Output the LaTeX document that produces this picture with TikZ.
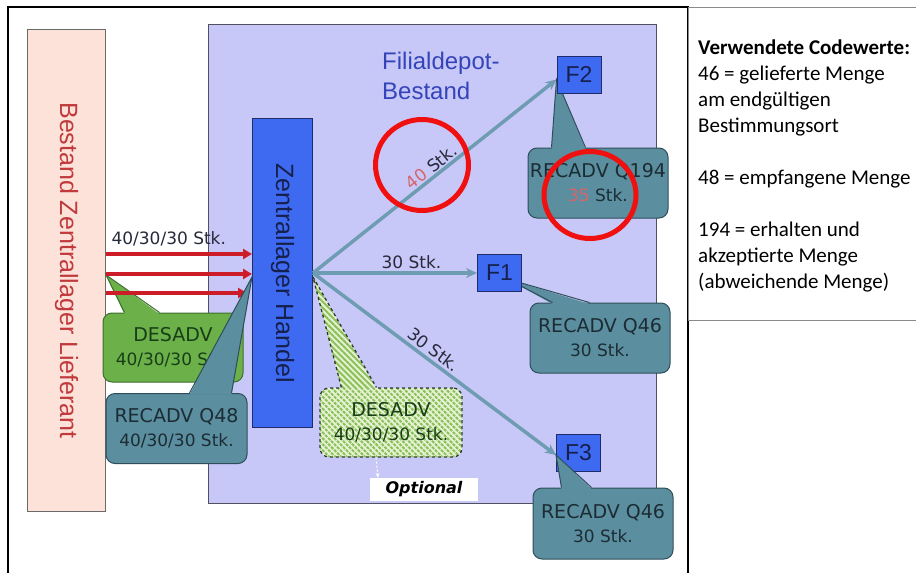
\documentclass[tikz,border=0pt]{standalone}
\usepackage{fontspec}
\usepackage{xcolor}
\usepackage{tikz}
\usetikzlibrary{calc, positioning, arrows.meta, patterns.meta, shapes.geometric}
\newfontfamily\diagfont{DejaVu Sans}
\newfontfamily\headfont{Liberation Sans}
\newfontfamily\legendfont{Carlito}
\definecolor{supplierPink}{HTML}{FDE2DA}
\definecolor{supplierRed}{HTML}{C0393B}
\definecolor{lineGrey}{HTML}{6A6A6A}
\definecolor{depotLilac}{HTML}{C8C8F8}
\definecolor{depotEdge}{HTML}{505060}
\definecolor{titleBlue}{HTML}{3344B8}
\definecolor{storeBlue}{HTML}{3E6AF2}
\definecolor{storeEdge}{HTML}{202C6A}
\definecolor{navyText}{HTML}{16204C}
\definecolor{callTeal}{HTML}{5B8E9E}
\definecolor{tealEdge}{HTML}{2E4E5A}
\definecolor{callText}{HTML}{1C2C34}
\definecolor{callGreen}{HTML}{6CB04A}
\definecolor{greenEdge}{HTML}{3C6E2E}
\definecolor{greenText}{HTML}{173E17}
\definecolor{hatchBack}{HTML}{E6F2D4}
\definecolor{hatchGreen}{HTML}{8CC058}
\definecolor{hatchEdge}{HTML}{2E3A2E}
\definecolor{flowTeal}{HTML}{6E9CB2}
\definecolor{flowRed}{HTML}{CC1C28}
\definecolor{ringRed}{HTML}{F01010}
\definecolor{lowRed}{HTML}{D8646C}
\definecolor{qtyText}{HTML}{262A3A}
\definecolor{legendEdge}{HTML}{8A8A8A}
\tikzset{
  frame/.style     = {draw=black, line width=2.4pt},
  panel/.style     = {anchor=north west, inner sep=0pt, line width=1pt},
  fbox/.style      = {draw=storeEdge, fill=storeBlue, line width=1pt, inner sep=0pt,
                      minimum width=44pt, minimum height=37pt, text=navyText,
                      font=\headfont\fontsize{23}{25}\selectfont},
  call/.style      = {rounded corners=9pt, line width=1pt, align=center, inner sep=0pt,
                      minimum width=140pt, minimum height=70pt,
                      font=\diagfont\fontsize{19}{24}\selectfont},
  tealcall/.style  = {call, draw=tealEdge, fill=callTeal, text=callText},
  greencall/.style = {call, draw=greenEdge, fill=callGreen, text=greenText},
  hatchfill/.style = {preaction={fill=hatchBack},
                      pattern={Lines[angle=-45, distance=4.2pt, line width=2pt]},
                      pattern color=hatchGreen},
  hatchcall/.style = {call, hatchfill, draw=hatchEdge, dashed, line width=1.3pt, text=greenText},
  fl/.style        = {-{Stealth[length=11pt, width=10pt]}, draw=flowTeal, line width=3.5pt},
  redfl/.style     = {-{Triangle[length=9pt, width=10pt]}, draw=flowRed, line width=3.5pt},
  optfl/.style     = {-{Stealth[length=5pt]}, draw=white, line width=1pt, dash pattern=on 2pt off 2pt},
  qty/.style       = {font=\diagfont\fontsize{17}{20}\selectfont, text=qtyText, inner sep=1pt},
  ring/.style      = {ellipse, draw=ringRed, line width=5pt, inner sep=0pt}
}
\begin{document}
\begin{tikzpicture}[x=1pt, y=-1pt]
  \useasboundingbox (0,0) rectangle (916,573);

  % --- frame and the two stock areas
  \draw[frame] (8,580) -- (8,7) -- (688,7) -- (688,580);
  \node[panel, draw=lineGrey, fill=supplierPink, minimum width=78pt, minimum height=482pt] (lief) at (27,29) {};
  \node[rotate=-90, text=supplierRed, font=\headfont\fontsize{25}{28}\selectfont] (liefLabel) at (lief.center) {Bestand Zentrallager Lieferant};
  \node[panel, draw=depotEdge, fill=depotLilac, minimum width=448pt, minimum height=479pt] (depot) at (208,24) {};
  \node[anchor=north west, align=left, inner sep=0pt, text=titleBlue, font=\headfont\fontsize{24}{30}\selectfont] (depotLabel) at (382,52) {Filialdepot-\\Bestand};
  \node[panel, draw=storeEdge, fill=storeBlue, minimum width=60pt, minimum height=309pt] (zent) at (252,118) {};
  \node[rotate=-90, text=navyText, font=\headfont\fontsize{25}{28}\selectfont] (zentLabel) at (zent.center) {Zentrallager Handel};

  % --- supplier side: DESADV, deliveries, RECADV
  \node[greencall, minimum height=69pt] (desadv) at (173,347.5) {DESADV\\{\fontsize{17}{24}\selectfont 40/30/30 Stk.}};
  \fill[callGreen] (lief.east |- 0,275) -- ($(desadv.north west)+(22,1.5)$) -- ($(desadv.north west)+(57,1.5)$) -- cycle;
  \draw[greenEdge, line width=1pt] ($(desadv.north west)+(22,0)$) -- (lief.east |- 0,275) -- ($(desadv.north west)+(57,0)$);

  \draw[redfl] (lief.east |- 0,254) -- node[qty, above=5pt, pos=0.43] (inLabel) {40/30/30 Stk.} (zent.west |- 0,254);
  \draw[redfl] (lief.east |- 0,274) -- (zent.west |- 0,274);
  \draw[redfl] (lief.east |- 0,293) -- ([xshift=-5pt]zent.west |- 0,293);

  \node[tealcall, minimum width=141pt] (q48) at (176.5,428.5) {RECADV Q48\\{\fontsize{17}{24}\selectfont 40/30/30 Stk.}};
  \fill[callTeal] (zent.west |- 0,277) -- ($(q48.north west)+(84,1.5)$) -- ($(q48.north west)+(126,1.5)$) -- cycle;
  \draw[tealEdge, line width=1pt] ($(q48.north west)+(84,0)$) -- (zent.west |- 0,277) -- ($(q48.north west)+(126,0)$);

  % --- branch stores
  \node[fbox] (f2) at (579,74.5) {F2};
  \node[fbox] (f1) at (499.5,273) {F1};
  \node[fbox] (f3) at (578.5,453) {F3};

  \draw[fl] (zent.east) -- node[qty, sloped, above, pos=0.51] (lbl40) {\textcolor{lowRed}{40} Stk.} ([yshift=-5pt]f2.west);
  \draw[fl] (zent.east) -- node[qty, above=2pt, pos=0.6] (lbl30a) {30 Stk.} (f1.west);
  \draw[fl] (zent.east) -- node[qty, sloped, above=2pt, pos=0.47] (lbl30b) {30 Stk.} ([yshift=-2pt]f3.west);

  % --- optional DESADV to the stores
  \node[hatchcall, minimum width=142pt, minimum height=69pt] (optdes) at (391,422.5) {DESADV\\{\fontsize{17}{24}\selectfont 40/30/30 Stk.}};
  \path[hatchfill] ([yshift=-4pt]zent.east) -- ($(optdes.north west)+(22,1.5)$) -- ($(optdes.north west)+(57,1.5)$) -- cycle;
  \draw[hatchEdge, dashed, line width=1.3pt] ($(optdes.north west)+(22,0)$) -- ([yshift=-4pt]zent.east) -- ($(optdes.north west)+(57,0)$);
  \node[fill=white, minimum width=108pt, minimum height=23pt, inner sep=0pt,
        font=\diagfont\bfseries\itshape\fontsize{16}{18}\selectfont] (opt) at (424,489.5) {Optional};
  \draw[optfl] ([xshift=-15pt]optdes.south) -- ([xshift=-46pt]opt.north);

  % --- RECADV of the stores
  \node[tealcall] (q194) at (598,183) {RECADV Q194\\{\fontsize{17}{24}\selectfont\textcolor{lowRed}{35} Stk.}};
  \fill[callTeal] ([yshift=-5pt]f2.west) -- ($(q194.north west)+(24,1.5)$) -- ($(q194.north west)+(58,1.5)$) -- cycle;
  \draw[tealEdge, line width=1pt] ($(q194.north west)+(24,0)$) -- ([yshift=-5pt]f2.west) -- ($(q194.north west)+(58,0)$);
  \node[fbox] at (f2) {F2};

  \node[tealcall] (q46a) at (600,338) {RECADV Q46\\{\fontsize{17}{24}\selectfont 30 Stk.}};
  \fill[callTeal] ($(f1.center)+(8,6)$) -- ($(q46a.north west)+(23,1.5)$) -- ($(q46a.north west)+(60,1.5)$) -- cycle;
  \draw[tealEdge, line width=1pt] ($(q46a.north west)+(23,0)$) -- ($(f1.center)+(8,6)$) -- ($(q46a.north west)+(60,0)$);
  \node[fbox] at (f1) {F1};

  \node[tealcall, minimum height=71pt] (q46b) at (603,523.5) {RECADV Q46\\{\fontsize{17}{24}\selectfont 30 Stk.}};
  \fill[callTeal] ([yshift=-2pt]f3.west) -- ($(q46b.north west)+(29,1.5)$) -- ($(q46b.north west)+(59,1.5)$) -- cycle;
  \draw[tealEdge, line width=1pt] ($(q46b.north west)+(29,0)$) -- ([yshift=-2pt]f3.west) -- ($(q46b.north west)+(59,0)$);

  % --- legend
  \node[panel, draw=legendEdge, fill=white, minimum width=240pt, minimum height=313pt] (legend) at (688,7) {};
  \node[anchor=north west, align=left, inner sep=0pt, font=\legendfont\fontsize{21}{26}\selectfont] (codes) at (698,40)
       {\textbf{Verwendete Codewerte:}\\46 = gelieferte Menge\\am endgültigen\\Bestimmungsort\\[26pt]48 = empfangene Menge\\[26pt]194 = erhalten und\\akzeptierte Menge\\(abweichende Menge)};

  % --- red marks
  \node[ring, minimum width=93pt, minimum height=91pt] (ring40) at (422,165) {};
  \node[ring, minimum width=92pt, minimum height=87pt] (ring35) at (590,195) {};
\end{tikzpicture}
\end{document}
